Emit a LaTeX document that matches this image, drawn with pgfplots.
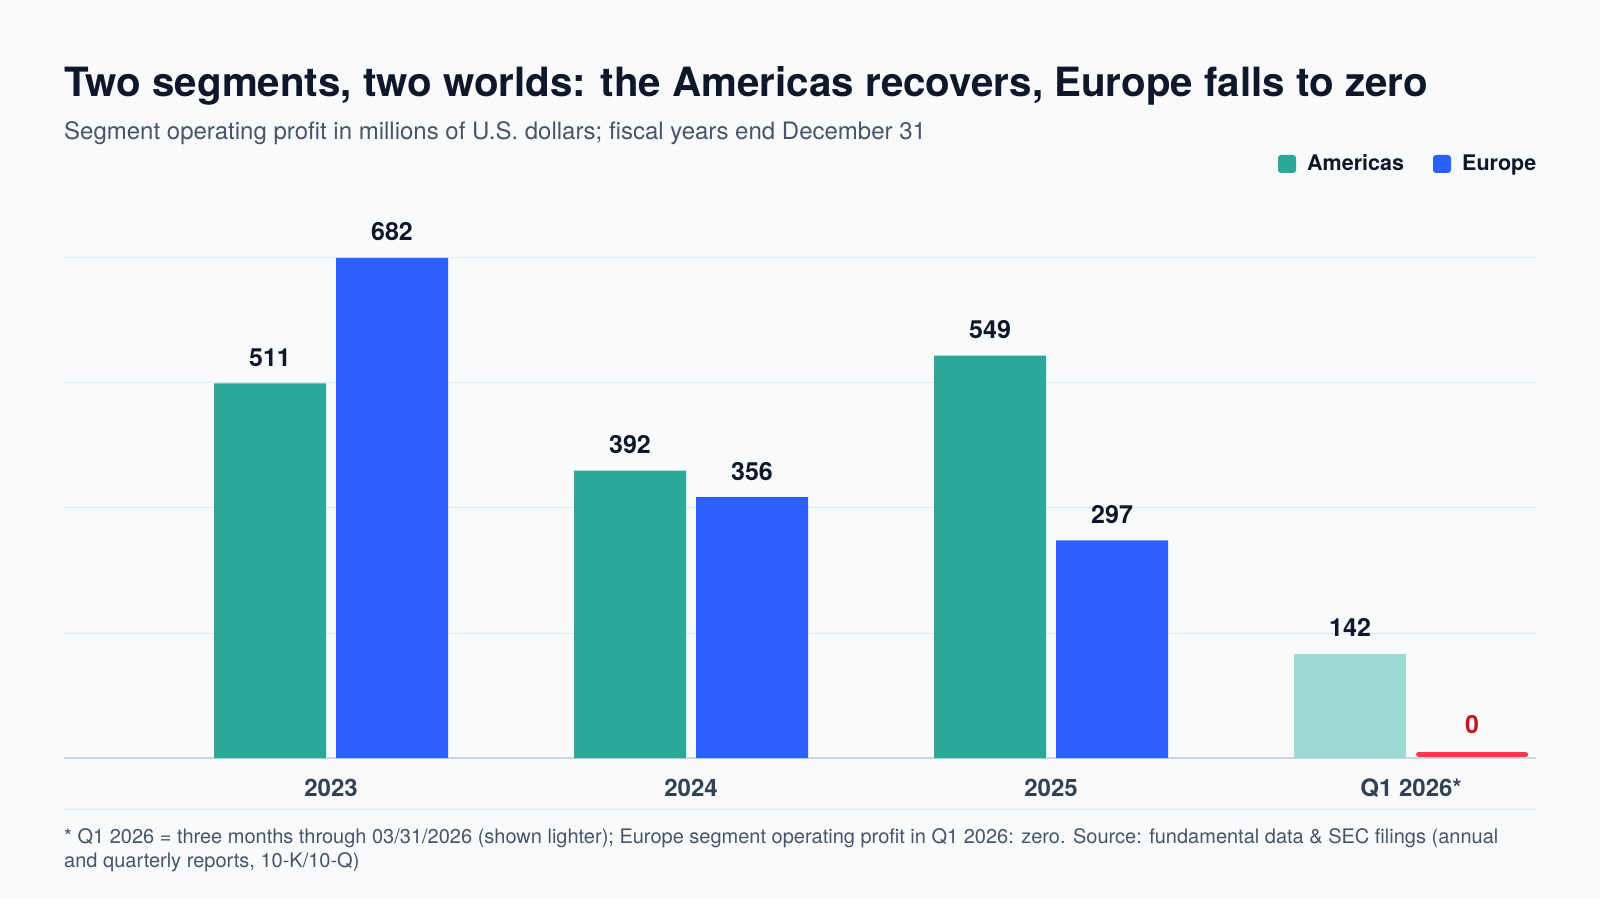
\documentclass[border=0pt]{standalone}
\usepackage{pgfplots}
\pgfplotsset{compat=1.18}
\usepackage{fontspec}
\setmainfont{TeX Gyre Heros}
\definecolor{bg}{HTML}{F8FAFC}
\definecolor{ink}{HTML}{0F172A}
\definecolor{sub}{HTML}{475569}
\definecolor{tick}{HTML}{334155}
\definecolor{gridc}{HTML}{E2E8F0}
\definecolor{axisc}{HTML}{CBD5E1}
\definecolor{amer}{HTML}{2BA89A}
\definecolor{amerlight}{HTML}{9FDAD2}
\definecolor{euro}{HTML}{2C60FF}
\definecolor{redbar}{HTML}{EF3B4A}
\definecolor{redtxt}{HTML}{C0161E}
\begin{document}
\begin{tikzpicture}
\fill[bg] (0pt,0pt) rectangle (1600pt,900pt);
% title
\node[anchor=base west, inner sep=0, text=ink] at (64pt,803.3pt) {\fontsize{40.3}{48}\selectfont\bfseries Two segments, two worlds: the Americas recovers, Europe falls to zero};
\node[anchor=base west, inner sep=0, text=sub] at (64pt,760pt) {\fontsize{24}{28}\selectfont Segment operating profit in millions of U.S. dollars; fiscal years end December 31};
% legend
\fill[amer, rounded corners=3pt] (1278pt,727pt) rectangle (1296pt,745pt);
\node[anchor=base west, inner sep=0, text=ink] at (1307pt,729pt) {\fontsize{21.5}{25}\selectfont\bfseries Americas};
\fill[euro, rounded corners=3pt] (1433pt,727pt) rectangle (1451pt,745pt);
\node[anchor=base west, inner sep=0, text=ink] at (1462pt,729pt) {\fontsize{21.5}{25}\selectfont\bfseries Europe};
\begin{axis}[
  at={(64pt,142pt)}, anchor=south west,
  width=1472pt, height=500pt, scale only axis,
  xmin=-0.7417, xmax=3.347, ymin=0, ymax=682,
  axis x line*=bottom, axis y line*=left,
  x axis line style={-, draw=axisc, line width=2pt},
  y axis line style={draw=none},
  ytick={0,170.5,341,511.5,682}, yticklabels={},
  ymajorgrids, grid style={draw=gridc, line width=1pt},
  major tick length=0pt,
  xtick={0,1,2,3}, xticklabels={2023,2024,2025,Q1 2026*},
  xticklabel style={anchor=base, yshift=-38.7pt, text=tick, font=\fontsize{24}{28}\selectfont\bfseries},
  /pgf/number format/assume math mode=true,
  clip=false,
  every node near coord/.append style={anchor=base, yshift=17pt, inner sep=0pt, text=ink, font=\fontsize{25}{29}\selectfont\bfseries},
]
\addplot[ybar, bar width=112pt, bar shift=-61pt, fill=amer, draw=none, nodes near coords, every node near coord/.append style={xshift=-61pt}] coordinates {(0,511) (1,392) (2,549)};
\addplot[ybar, bar width=112pt, bar shift=61pt, fill=euro, draw=none, nodes near coords, every node near coord/.append style={xshift=61pt}] coordinates {(0,682) (1,356) (2,297)};
\addplot[ybar, bar width=112pt, bar shift=-61pt, fill=amerlight, draw=none, nodes near coords, every node near coord/.append style={xshift=-61pt}] coordinates {(3,142)};
\addplot[ybar, bar width=107pt, bar shift=61pt, draw=redbar, fill=none, line width=5pt, line join=round, yshift=3.5pt, nodes near coords, every node near coord/.append style={text=redtxt, yshift=4pt, xshift=61pt}] coordinates {(3,0)};
\end{axis}
\draw[gridc, line width=1pt] (64pt,91pt) -- (1536pt,91pt);
\node[anchor=base west, inner sep=0, text=sub] at (64pt,57pt) {\fontsize{20}{24}\selectfont * Q1 2026 = three months through 03/31/2026 (shown lighter); Europe segment operating profit in Q1 2026: zero. Source: fundamental data \& SEC filings (annual};
\node[anchor=base west, inner sep=0, text=sub] at (64pt,33pt) {\fontsize{20}{24}\selectfont and quarterly reports, 10-K/10-Q)};
\end{tikzpicture}
\end{document}
